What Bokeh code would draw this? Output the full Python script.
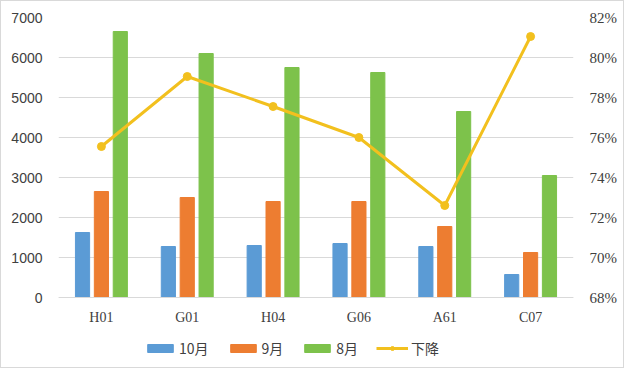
from bokeh.plotting import figure
from bokeh.models import (ColumnDataSource, FactorRange, Range1d, LinearAxis, CategoricalAxis,
                          FixedTicker, NumeralTickFormatter, Legend, LegendItem)
from bokeh.transform import dodge
from bokeh.embed import file_html
from bokeh.resources import INLINE

categories = ["H01", "G01", "H04", "G06", "A61", "C07"]
oct_vals = [1625, 1275, 1300, 1350, 1275, 575]
sep_vals = [2650, 2500, 2400, 2400, 1775, 1125]
aug_vals = [6650, 6100, 5750, 5625, 4650, 3050]
decline = [0.7555, 0.7905, 0.7755, 0.760, 0.726, 0.8105]
series_names = ["10月", "9月", "8月", "下降"]
left_ticks = [0, 1000, 2000, 3000, 4000, 5000, 6000, 7000]
right_ticks = [0.68, 0.70, 0.72, 0.74, 0.76, 0.78, 0.80, 0.82]

src = ColumnDataSource(dict(cat=categories, oct=oct_vals, sep=sep_vals, aug=aug_vals, dec=decline))

# frame extends below zero so the legend (drawn inside the frame) sits under the axis
p = figure(x_range=FactorRange(*categories), y_range=Range1d(-1800, 7000),
           width=624, height=368, output_backend="svg", toolbar_location=None,
           x_axis_location=None,
           min_border_left=57, min_border_right=52, min_border_top=16, min_border_bottom=0)
p.styles = {"border": "1px solid #d9d9d9"}
p.outline_line_color = None
p.border_fill_color = "white"
p.extra_y_ranges = {"pct": Range1d(0.644, 0.82)}

blue, orange, green, gold = "#5B9BD5", "#ED7D31", "#7DC24B", "#F2C01E"
w = 0.165
r1 = p.vbar(x=dodge("cat", -0.22, range=p.x_range), top="oct", width=w, source=src, color=blue)
r2 = p.vbar(x=dodge("cat", 0.0, range=p.x_range), top="sep", width=w, source=src, color=orange)
r3 = p.vbar(x=dodge("cat", 0.22, range=p.x_range), top="aug", width=w, source=src, color=green)
r4 = p.line(x="cat", y="dec", source=src, y_range_name="pct", line_color=gold, line_width=3)
r5 = p.scatter(x="cat", y="dec", source=src, y_range_name="pct", size=8, color=gold)

p.yaxis.ticker = FixedTicker(ticks=left_ticks)
p.yaxis.axis_line_color = None
p.yaxis.major_tick_line_color = None
p.yaxis.minor_tick_line_color = None
p.yaxis.major_label_text_font = "Liberation Sans"
p.yaxis.major_label_text_font_size = "14px"
p.yaxis.major_label_text_color = "#404040"
p.yaxis.major_label_standoff = 10

ax2 = LinearAxis(y_range_name="pct", ticker=FixedTicker(ticks=right_ticks),
                 formatter=NumeralTickFormatter(format="0%"))
ax2.axis_line_color = None
ax2.major_tick_line_color = None
ax2.minor_tick_line_color = None
ax2.major_label_text_font = "Liberation Serif"
ax2.major_label_text_font_size = "15px"
ax2.major_label_text_color = "#404040"
ax2.major_label_standoff = 10
p.add_layout(ax2, "right")

xax = CategoricalAxis(fixed_location=0)
xax.axis_line_color = "#d9d9d9"
xax.major_tick_line_color = None
xax.minor_tick_line_color = None
xax.major_label_text_font = "Liberation Serif"
xax.major_label_text_font_size = "14px"
xax.major_label_text_color = "#404040"
xax.major_label_standoff = 6
p.add_layout(xax, "below")

p.xgrid.grid_line_color = None
p.ygrid.grid_line_color = "#d9d9d9"

legend = Legend(items=[LegendItem(label=series_names[0], renderers=[r1]),
                       LegendItem(label=series_names[1], renderers=[r2]),
                       LegendItem(label=series_names[2], renderers=[r3]),
                       LegendItem(label=series_names[3], renderers=[r4, r5])],
                orientation="horizontal", location=(86, 11))
legend.glyph_width = 32
legend.glyph_height = 10
legend.label_text_font = "Noto Sans CJK SC"
legend.label_text_font_size = "14px"
legend.label_text_color = "#404040"
legend.label_standoff = 3
legend.spacing = 18
legend.border_line_color = None
legend.background_fill_alpha = 0
legend.padding = 4
legend.margin = 0
p.add_layout(legend, "center")

open("out.html", "w").write(file_html(p, INLINE))
